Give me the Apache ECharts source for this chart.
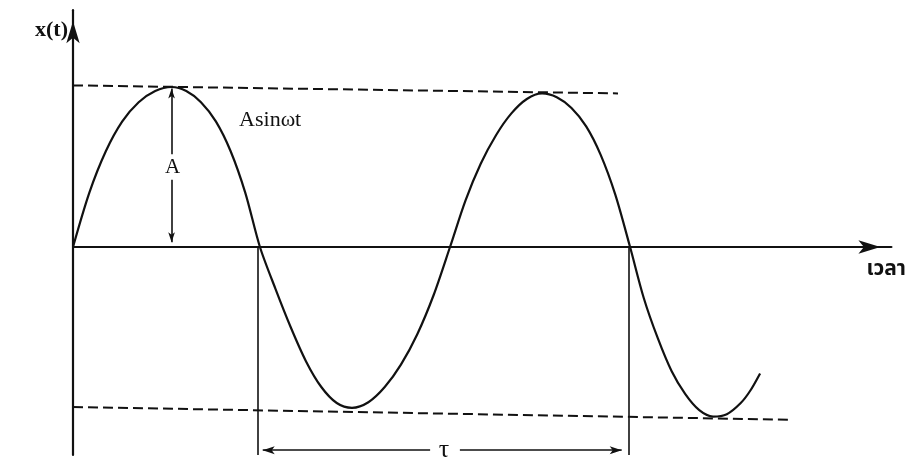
<!DOCTYPE html>
<html>
<head>
<meta charset="utf-8">
<script src="https://cdn.jsdelivr.net/npm/echarts@6/dist/echarts.min.js"></script>
<style>
  html, body { margin: 0; padding: 0; background: #fff; }
  #chart { width: 911px; height: 460px; }
</style>
</head>
<body>
<div id="chart"></div>
<script>
// Sine displacement x(t) = A sin(ωt): time in ms, displacement in mm
const waveT = [
  0, 0.88, 1.77, 2.65, 3.53, 4.42, 5.3, 6.09, 6.88, 7.68, 8.47, 9.26, 10.05,
  10.88, 11.7, 12.53, 13.35, 14.18, 15.0, 15.88, 16.76, 17.63, 18.51, 19.39, 20.27,
  21.1, 21.92, 22.75, 23.57, 24.4, 25.22, 26.01, 26.8, 27.59, 28.37, 29.16, 29.95,
  30.69, 31.44, 32.18, 32.92, 33.67, 34.41, 35.15, 35.9, 36.4, 36.94
];
const waveX = [
  0, 3.4, 6.0, 7.85, 9.05, 9.75, 10.0, 9.75, 9.05, 7.85, 6.0, 3.4, 0,
  -2.6, -5.0, -7.15, -8.75, -9.75, -10.05, -9.7, -8.75, -7.35, -5.45, -3.0, 0,
  2.9, 5.2, 7.0, 8.35, 9.25, 9.6, 9.36, 8.69, 7.54, 5.76, 3.26, 0,
  -3.2, -5.7, -7.75, -9.2, -10.2, -10.6, -10.45, -9.75, -9.0, -7.9
];

// envelope of the crests and troughs (dashed)
const crestEnvelope = [[0, 10.1], [29.3, 9.6]];
const troughEnvelope = [[0, -10.0], [38.7, -10.8]];

// one full period τ between two downward zero crossings
const periodStart = 9.95;
const periodEnd = 29.9;
const periodDrop = -13;
const tauLevel = -12.7;
const tauGap = [19.2, 20.8];

// amplitude A at the first crest
const crestT = 5.3;
const crestValue = 10.0;

// axis and annotation text
const yAxisName = 'x(t)';
const xAxisName = 'เวลา';
const waveLabel = 'Asinωt';
const ampLabel = 'A';
const periodLabel = 'τ';

const ink = '#111';
const serif = '"Liberation Serif", "DejaVu Serif", serif';

const chart = echarts.init(document.getElementById('chart'), null, { renderer: 'canvas' });

const hiddenAxisBits = {
  axisTick: { show: false },
  axisLabel: { show: false },
  splitLine: { show: false }
};

chart.setOption({
  animation: false,
  backgroundColor: '#fff',
  grid: { left: 73, top: 10.2, width: 818.4, height: 444.8, containLabel: false },
  xAxis: Object.assign({
    type: 'value', min: 0, max: 44,
    axisLine: {
      onZero: true,
      symbol: ['none', 'arrow'], symbolSize: [10, 22], symbolOffset: [0, -11],
      lineStyle: { color: ink, width: 2.2 }
    },
    name: xAxisName, nameLocation: 'end', nameGap: -25,
    nameTextStyle: {
      color: ink, fontSize: 21, fontWeight: 'bold', align: 'left', verticalAlign: 'top',
      padding: [13, 0, 0, 0],
      fontFamily: '"Noto Sans Thai", "Noto Sans", "DejaVu Sans", sans-serif'
    }
  }, hiddenAxisBits),
  yAxis: Object.assign({
    type: 'value', min: -13, max: 14.8,
    axisLine: {
      symbol: ['none', 'arrow'], symbolSize: [10, 22], symbolOffset: [0, -11],
      lineStyle: { color: ink, width: 2.2 }
    },
    name: yAxisName, nameLocation: 'end', nameGap: -20,
    nameTextStyle: {
      color: ink, fontSize: 22, fontWeight: 'bold', fontFamily: serif,
      align: 'right', verticalAlign: 'middle', padding: [0, 5, 0, 0]
    }
  }, hiddenAxisBits),
  series: [
    {
      name: waveLabel,
      type: 'line',
      data: waveT.map((t, i) => [t, waveX[i]]),
      smooth: 0.3,
      showSymbol: false,
      lineStyle: { color: ink, width: 2.2 },
      z: 5
    },
    {
      type: 'lines', coordinateSystem: 'cartesian2d',
      lineStyle: { color: ink, width: 2, type: [10, 5], opacity: 1 },
      data: [{ coords: crestEnvelope }, { coords: troughEnvelope }],
      z: 3
    },
    {
      type: 'lines', coordinateSystem: 'cartesian2d',
      lineStyle: { color: ink, width: 1.6, opacity: 1 },
      data: [
        { coords: [[periodStart, 0], [periodStart, periodDrop]] },
        { coords: [[periodEnd, 0], [periodEnd, periodDrop]] }
      ],
      z: 3
    },
    {
      // double-headed arrows for A and τ, each split around its label
      type: 'lines', coordinateSystem: 'cartesian2d',
      symbol: ['none', 'arrow'],
      symbolSize: [[0, 0], [6, 12]],
      lineStyle: { color: ink, width: 1.6, opacity: 1 },
      data: [
        { coords: [[crestT, crestValue * 0.58], [crestT, crestValue * 0.99]], symbolSize: [[0, 0], [5, 10]] },
        { coords: [[crestT, crestValue * 0.42], [crestT, crestValue * 0.03]], symbolSize: [[0, 0], [5, 10]] },
        { coords: [[tauGap[0], tauLevel], [periodStart + 0.25, tauLevel]] },
        { coords: [[tauGap[1], tauLevel], [periodEnd - 0.4, tauLevel]] }
      ],
      z: 4
    },
    {
      type: 'scatter',
      symbolSize: 0,
      silent: true,
      itemStyle: { opacity: 1 },
      label: {
        show: true, position: 'inside', color: ink, fontFamily: serif,
        textBorderWidth: 0, opacity: 1,
        formatter: p => p.name
      },
      data: [
        { name: waveLabel, value: [10.6, 7.9], label: { fontSize: 22 } },
        { name: ampLabel, value: [crestT + 0.05, 5.0], label: { fontSize: 21 } },
        { name: periodLabel, value: [(tauGap[0] + tauGap[1]) / 2 - 0.05, tauLevel], label: { fontSize: 26 } }
      ],
      z: 6
    }
  ]
});
</script>
</body>
</html>
